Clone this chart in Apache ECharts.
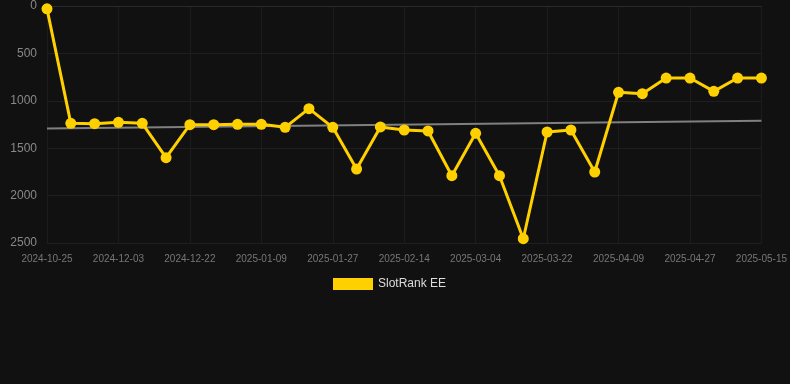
<!DOCTYPE html>
<html>
<head>
<meta charset="utf-8">
<script src="https://cdn.jsdelivr.net/npm/echarts@6/dist/echarts.min.js"></script>
<style>
  html, body { margin: 0; padding: 0; background: #111111; }
  #chart { width: 790px; height: 384px; }
</style>
</head>
<body>
<div id="chart"></div>
<script>
var dates = ['2024-10-25', '2024-11-21', '2024-11-27', '2024-12-03', '2024-12-09', '2024-12-15',
  '2024-12-22', '2024-12-28', '2025-01-03', '2025-01-09', '2025-01-15', '2025-01-21',
  '2025-01-27', '2025-02-02', '2025-02-08', '2025-02-14', '2025-02-20', '2025-02-26',
  '2025-03-04', '2025-03-10', '2025-03-16', '2025-03-22', '2025-03-28', '2025-04-03',
  '2025-04-09', '2025-04-15', '2025-04-21', '2025-04-27', '2025-05-03', '2025-05-09',
  '2025-05-15'];
var ranks = [30, 1238, 1241, 1227, 1238, 1600, 1252, 1252, 1248, 1248, 1280, 1083,
  1280, 1720, 1276, 1308, 1318, 1790, 1343, 1790, 2455, 1329, 1308, 1751,
  910, 925, 760, 760, 900, 760, 760];
var trendStart = 1291;
var trendEnd = 1210;

var myChart = echarts.init(document.getElementById('chart'));
var option = {
  backgroundColor: '#111111',
  animation: false,
  grid: { left: 47, right: 28, top: 6, bottom: 141 },
  legend: {
    top: 273,
    left: 328,
    icon: 'rect',
    itemWidth: 40,
    itemHeight: 12,
    itemGap: 5,
    textStyle: { color: '#dddddd', fontSize: 12 },
    data: ['SlotRank EE']
  },
  xAxis: {
    type: 'category',
    data: dates,
    boundaryGap: false,
    axisLine: { show: true, lineStyle: { color: '#2a2a2a' } },
    axisTick: { show: false },
    axisLabel: { interval: 2, color: '#777777', fontSize: 10, margin: 11 },
    splitLine: { show: true, interval: 2, lineStyle: { color: '#1c1c1c' } }
  },
  yAxis: {
    type: 'value',
    inverse: true,
    min: 0,
    max: 2500,
    interval: 500,
    axisLine: { show: false },
    axisTick: { show: false },
    axisLabel: { color: '#888888', fontSize: 12, margin: 10, formatter: function (v) { return String(v); } },
    splitLine: { lineStyle: { color: '#1f1f1f' } }
  },
  series: [{
    name: 'SlotRank EE',
    type: 'line',
    data: ranks,
    symbol: 'circle',
    symbolSize: 11,
    itemStyle: { color: '#FFD000' },
    lineStyle: { color: '#FFD000', width: 3 },
    z: 3
  }, {
    name: 'trend',
    type: 'line',
    data: [[dates[0], trendStart], [dates[dates.length - 1], trendEnd]],
    symbol: 'none',
    lineStyle: { color: '#808080', width: 2 },
    z: 2
  }]
};
myChart.setOption(option);
</script>
</body>
</html>
